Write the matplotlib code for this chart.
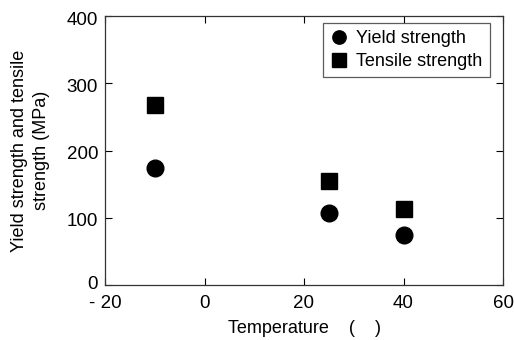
import matplotlib
matplotlib.use("Agg")
import matplotlib.pyplot as plt
from matplotlib.transforms import ScaledTranslation

plt.rcParams['font.family'] = ['Liberation Sans', 'DejaVu Sans']

temps = [-10, 25, 40]
yield_strength = [174, 107, 74]
tensile_strength = [267, 155, 113]
x_ticks = [-20, 0, 20, 40, 60]
x_tick_labels = ['- 20', '0', '20', '40', '60']
y_ticks = [0, 100, 200, 300, 400]

fig = plt.figure(figsize=(5.14, 3.4), dpi=100)
ax = fig.add_axes([105 / 514, 1 - 285 / 340, 398 / 514, 269 / 340])

ax.plot(temps, yield_strength, 'o', color='black', markersize=12, label='Yield strength')
ax.plot(temps, tensile_strength, 's', color='black', markersize=12, label='Tensile strength')

ax.set_xlim(-20, 60)
ax.set_ylim(0, 400)
ax.set_xticks(x_ticks)
ax.set_xticklabels(x_tick_labels)
ax.set_yticks(y_ticks)
ax.tick_params(direction='in', top=True, right=True, length=5, width=0.8,
               labelsize=13.5, colors='black')
ax.tick_params(axis='x', pad=7)
ax.tick_params(axis='y', pad=5)
for s in ax.spines.values():
    s.set_linewidth(0.9)
    s.set_color('#333333')

# y tick labels sit a little below their ticks in the original,
# except the "0" which would run into the "- 20" below it
for i, lab in enumerate(ax.get_yticklabels()):
    dy = 1.5 if i == 0 else -1.5
    lab.set_transform(lab.get_transform() + ScaledTranslation(0, dy / 72, fig.dpi_scale_trans))

ax.set_xlabel('Temperature    (    )', fontsize=13, labelpad=6)
ax.set_ylabel('Yield strength and tensile\nstrength (MPa)', fontsize=13,
              labelpad=12, linespacing=1.35)

leg = ax.legend(loc='upper right', bbox_to_anchor=(0.967, 0.975), fontsize=13,
                frameon=True, fancybox=False, edgecolor='#333333',
                handletextpad=0.45, handlelength=1.0, borderpad=0.4,
                labelspacing=0.35, markerscale=0.8, borderaxespad=0)
leg.get_frame().set_linewidth(0.9)

fig.savefig('out.png', dpi=100)
